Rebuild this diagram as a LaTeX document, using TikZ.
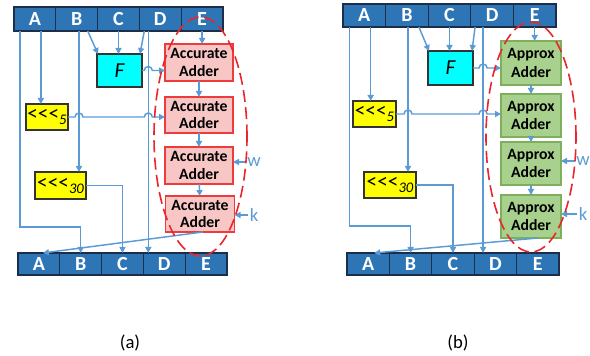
\documentclass[tikz,border=0pt]{standalone}
\usepackage{fontspec}
\setmainfont{Carlito}[Ligatures=NoCommon]
\usetikzlibrary{arrows.meta,calc,shapes.geometric}
\newdimen\pxu \pxu=0.75pt
\definecolor{barblue}{HTML}{2E75B6}
\definecolor{bardark}{HTML}{1C2E4A}
\definecolor{wire}{HTML}{5B9BD5}
\definecolor{accfill}{HTML}{F9C6C6}
\definecolor{accdraw}{HTML}{EE3B3B}
\definecolor{appfill}{HTML}{A9D18E}
\definecolor{appdraw}{HTML}{7EAF5C}
\definecolor{ellred}{HTML}{E8262C}
\definecolor{fcyan}{HTML}{00FFFF}
\definecolor{ryellow}{HTML}{FFFF00}
\tikzset{
  cell/.style={draw=bardark, fill=barblue, line width=0.8pt, inner sep=0pt, outer sep=0pt,
    text=white, font=\fontsize{15}{15}\selectfont\bfseries},
  fbox/.style={draw=black!80, fill=fcyan, line width=0.8pt, inner sep=0pt, outer sep=0pt,
    font=\fontsize{16}{16}\selectfont\itshape},
  rotbox/.style={draw=black!80, fill=ryellow, line width=0.8pt, inner sep=0pt, outer sep=0pt,
    font=\fontsize{16}{16}\selectfont},
  accadd/.style={draw=accdraw, fill=accfill, line width=0.9pt, inner sep=0pt, outer sep=0pt,
    align=center, font=\fontsize{11.8}{13}\selectfont\bfseries},
  appadd/.style={draw=appdraw, fill=appfill, line width=0.9pt, inner sep=0pt, outer sep=0pt,
    align=center, font=\fontsize{11.8}{14}\selectfont\bfseries},
  conn/.style={draw=wire, line width=1.1pt},
  arr/.style={conn, -{Triangle[length=4.5pt,width=4.5pt]}},
  lbl/.style={text=wire, inner sep=1pt, font=\fontsize{14}{14}\selectfont},
  ell/.style={draw=ellred, ellipse, line width=1.2pt, dash pattern=on 9pt off 4pt, inner sep=0pt},
  captxt/.style={font=\fontsize{14}{14}\selectfont}
}
\newcommand{\rotl}[1]{<{}<{}<\raisebox{-3pt}{\fontsize{11}{11}\selectfont\itshape #1}}
\begin{document}
\begin{tikzpicture}[x=0.75pt,y=-0.75pt]
\useasboundingbox (0,0) rectangle (590,356);

% ================= Panel (a) =================
\foreach \l [count=\i] in {A,B,C,D,E}
  \node[cell, minimum width=41.8\pxu, minimum height=24\pxu] (aT\l) at ({14+41.8*(\i-0.5)},19) {\l};
\foreach \l [count=\i] in {A,B,C,D,E}
  \node[cell, minimum width=41.8\pxu, minimum height=22\pxu] (aB\l) at ({18+41.8*(\i-0.5)},264) {\l};

\node[fbox, minimum width=45\pxu, minimum height=33\pxu] (aF) at (119.5,70.5) {F};
\node[rotbox, minimum width=42\pxu, minimum height=26\pxu] (aS5) at (47,117) {\rotl{5}};
\node[rotbox, minimum width=51\pxu, minimum height=27\pxu] (aS30) at (60.5,185.5) {\rotl{30}};

\node[accadd, minimum width=68\pxu, minimum height=37\pxu] (aAd1) at (199,62.5) {Accurate\\Adder};
\node[accadd, minimum width=68\pxu, minimum height=36\pxu] (aAd2) at (199,115) {Accurate\\Adder};
\node[accadd, minimum width=68\pxu, minimum height=37\pxu] (aAd3) at (199,165.5) {Accurate\\Adder};
\node[accadd, minimum width=69\pxu, minimum height=36\pxu] (aAd4) at (200,214) {Accurate\\Adder};

\node[lbl] (aw) at (254,162) {w};
\node[lbl] (ak) at (254,215) {k};

\coordinate (aXA) at ($(aTA.south west)+(6,0)$);
\coordinate (aXA2) at ($(aTA.south)+(6,0)$);
\coordinate (aXB) at ($(aTB.south)+(2.3,0)$);
\coordinate (aXD) at ($(aTD.south)+(-12,0)$);

\draw[arr] (aXA) |- ($(aBB.north)+(0,-26)$) -- (aBB.north);
\draw[arr] (aXA2) -- (aXA2 |- aS5.north);
\draw[arr] (aXB) -- (aXB |- aS30.north);
\draw[arr] ($(aTB.south)+(11,0)$) -- ($(aF.north west)+(1,0)$);
\draw[arr] (aTC.south) -- (aTC.south |- aF.north);
\draw[arr] ($(aTD.south)+(-16,0)$) -- ($(aF.north east)+(-2,0)$);
\draw[arr] (aXD) -- (aXD |- aBD.north);
\draw[arr] (aTE.south) -- (aTE.south |- aAd1.north);
\draw[arr] (aF.east) -- ($(aXD |- aF.east)+(-4,0)$) arc[start angle=180,end angle=360,radius=4] -- (aAd1.west |- aF.east);
\draw[arr] (aS5.east) -- ($(aXB |- aS5.east)+(-4,0)$) arc[start angle=180,end angle=360,radius=4]
  -- ($(aXD |- aS5.east)+(-4,0)$) arc[start angle=180,end angle=360,radius=4] -- (aAd2.west |- aS5.east);
\draw[arr] (aS30.east) -| (aBC.north);
\draw[arr] (aAd1) -- (aAd2);
\draw[arr] (aAd2) -- (aAd3);
\draw[arr] (aAd3) -- (aAd4);
\draw[arr] (aw.west) -- (aAd3.east |- aw.west);
\draw[arr] (ak.west) -- (aAd4.east |- ak.west);
\draw[arr] ($(aAd4.south)+(3,0)$) -- ($(aBA.north)+(4,0)$);

\node[ell, minimum width=93\pxu, minimum height=239\pxu] (aEll) at (200.5,136.5) {};
\node[captxt] (acap) at (130,343) {(a)};

% ================= Panel (b) =================
\foreach \l [count=\i] in {A,B,C,D,E}
  \node[cell, minimum width=42.6\pxu, minimum height=23\pxu] (bT\l) at ({343+42.6*(\i-0.5)},15.5) {\l};
\foreach \l [count=\i] in {A,B,C,D,E}
  \node[cell, minimum width=42.4\pxu, minimum height=22\pxu] (bB\l) at ({347+42.4*(\i-0.5)},264) {\l};

\node[fbox, minimum width=45\pxu, minimum height=34\pxu] (bF) at (450.5,68) {F};
\node[rotbox, minimum width=43\pxu, minimum height=26\pxu] (bS5) at (374.5,114) {\rotl{5}};
\node[rotbox, minimum width=52\pxu, minimum height=26\pxu] (bS30) at (390,185) {\rotl{30}};

\node[appadd, minimum width=60\pxu, minimum height=44\pxu] (bAd1) at (531,63) {Approx\\Adder};
\node[appadd, minimum width=60\pxu, minimum height=43\pxu] (bAd2) at (531,115.5) {Approx\\Adder};
\node[appadd, minimum width=60\pxu, minimum height=43\pxu] (bAd3) at (531,163.5) {Approx\\Adder};
\node[appadd, minimum width=60\pxu, minimum height=43\pxu] (bAd4) at (531,216.5) {Approx\\Adder};

\node[lbl] (bw) at (583,161) {w};
\node[lbl] (bk) at (583,214) {k};

\coordinate (bXA) at ($(bTA.south west)+(6.3,0)$);
\coordinate (bXA2) at ($(bTA.south)+(6.4,0)$);
\coordinate (bXB) at ($(bTB.south)+(1.1,0)$);
\coordinate (bXD) at ($(bTD.south)+(-9,0)$);

\draw[arr] (bXA) |- ($(bBB.north)+(0,-27)$) -- (bBB.north);
\draw[arr] (bXA2) -- (bXA2 |- bS5.north);
\draw[arr] (bXB) -- (bXB |- bS30.north);
\draw[arr] ($(bTB.south)+(12,0)$) -- ($(bF.north west)+(1,0)$);
\draw[arr] (bTC.south) -- (bTC.south |- bF.north);
\draw[arr] ($(bTD.south)+(-17,0)$) -- ($(bF.north east)+(-1,0)$);
\draw[arr] (bXD) -- (bXD |- bBD.north);
\draw[arr] (bTE.south) -- (bTE.south |- bAd1.north);
\draw[arr] (bF.east) -- ($(bXD |- bF.east)+(-4,0)$) arc[start angle=180,end angle=360,radius=4] -- (bAd1.west |- bF.east);
\draw[arr] (bS5.east) -- ($(bXB |- bS5.east)+(-4,0)$) arc[start angle=180,end angle=360,radius=4]
  -- ($(bXD |- bS5.east)+(-4,0)$) arc[start angle=180,end angle=360,radius=4] -- (bAd2.west |- bS5.east);
\draw[arr] (bS30.east) -| (bBC.north);
\draw[arr] (bAd1) -- (bAd2);
\draw[arr] (bAd2) -- (bAd3);
\draw[arr] (bAd3) -- (bAd4);
\draw[arr] (bw.west) -- (bAd3.east |- bw.west);
\draw[arr] (bk.west) -- (bAd4.east |- bk.west);
\draw[arr] ($(bAd4.south)+(7,0)$) -- ($(bBA.north)+(6,0)$);

\node[ell, minimum width=90\pxu, minimum height=230\pxu] (bEll) at (531,137) {};
\node[captxt] (bcap) at (458,343) {(b)};
\end{tikzpicture}
\end{document}
